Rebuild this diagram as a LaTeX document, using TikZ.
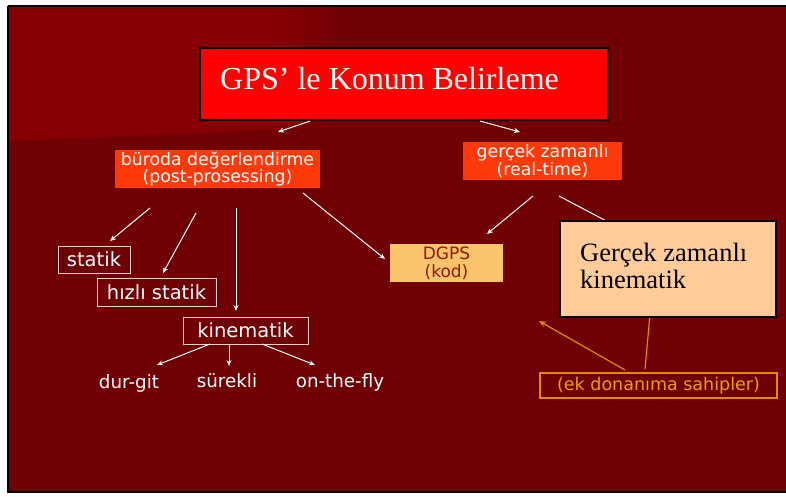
\documentclass[tikz,border=0pt]{standalone}
\usepackage{fontspec}
\setmainfont{Liberation Serif}
\newfontfamily\vsans{DejaVu Sans}
\usetikzlibrary{arrows.meta}

\definecolor{slidebg}{HTML}{6F0004}
\definecolor{slidelight}{HTML}{860003}
\definecolor{titlered}{HTML}{FF0000}
\definecolor{orangered}{HTML}{FF3A0A}
\definecolor{dgpsfill}{HTML}{F9C46A}
\definecolor{dgpstext}{HTML}{8E1B0E}
\definecolor{peach}{HTML}{FFCC99}
\definecolor{amber}{HTML}{E88A00}
\definecolor{ambertext}{HTML}{F09A10}
\definecolor{paleline}{HTML}{E8D0D0}

\tikzset{
  orangebox/.style={fill=orangered, text=white, align=center, inner sep=0pt,
    font=\vsans\fontsize{17.3}{17.5}\selectfont},
  framebox/.style={draw=paleline, line width=1pt, text=white, inner sep=0pt,
    font=\vsans\fontsize{19.5}{20}\selectfont},
  leaf/.style={text=white, inner sep=0pt, font=\vsans\fontsize{18.3}{19}\selectfont},
  wire/.style={draw=white, line width=1pt, -{Stealth[length=6pt,width=5pt]}},
  amberwire/.style={draw=amber, line width=1.2pt},
}

\begin{document}
\begin{tikzpicture}[x=1pt,y=-1pt]
  \useasboundingbox (0,0) rectangle (786,496);
  \fill[white] (0,0) rectangle (786,496);

  % slide background with the lighter band in the upper left
  \fill[slidebg] (8,6) rectangle (786,492);
  \fill[slidelight] (8,6) -- (270,6) -- (270,130) -- (8,141) -- cycle;
  \shade[left color=slidelight, right color=slidebg]
    (269,6) -- (350,6) -- (350,127) -- (269,130) -- cycle;
  \draw[black, line width=2pt] (8,6) -- (786,6);
  \draw[black, line width=2pt] (8,6) -- (8,492) -- (786,492);

  % title
  \node[draw=black, line width=1.6pt, fill=titlered, minimum width=408, minimum height=72,
        inner sep=0pt] (title) at (404,84) {};
  \node[anchor=base west, inner sep=0pt, text=white,
        font=\fontsize{32}{36}\selectfont] (titletext) at (220,89) {GPS’ le Konum Belirleme};

  % second level
  \node[orangebox, minimum width=205, minimum height=38] (buro) at (217.5,169)
    {büroda değerlendirme\\(post-prosessing)};
  \node[orangebox, minimum width=159, minimum height=38] (real) at (542.5,161)
    {gerçek zamanlı\\(real-time)};

  % post-processing methods
  \node[framebox, minimum width=72, minimum height=27] (statik) at (94,259.5) {statik};
  \node[framebox, minimum width=119, minimum height=28] (hizli) at (156.5,292) {hızlı statik};
  \node[framebox, minimum width=125, minimum height=27] (kin) at (245.5,330.5) {kinematik};

  \node[leaf, anchor=base] (durgit) at (129,388) {dur-git};
  \node[leaf, anchor=base] (surekli) at (227,387) {sürekli};
  \node[leaf, anchor=base] (otf) at (340,387) {on-the-fly};

  % DGPS
  \node[fill=dgpsfill, text=dgpstext, align=center, inner sep=0pt,
        minimum width=113, minimum height=38,
        font=\vsans\fontsize{17}{18}\selectfont] (dgps) at (446.5,263) {DGPS\\(kod)};

  % connector ends
  \coordinate (t1) at (310,121);  \coordinate (t1e) at (278,132);
  \coordinate (t2) at (480,121);  \coordinate (t2e) at (520,132);
  \coordinate (b1) at (150,208);  \coordinate (b1e) at (110,241);
  \coordinate (b2) at (196,213);  \coordinate (b2e) at (163,273);
  \coordinate (b3) at (236,208);  \coordinate (b3e) at (236,311);
  \coordinate (b4) at (303,193);  \coordinate (b4e) at (385,259);
  \coordinate (r1) at (533,196);  \coordinate (r1e) at (487,234);
  \coordinate (r2) at (559,196);  \coordinate (r2e) at (612,224);
  \coordinate (k1) at (210,344);  \coordinate (k1e) at (157,365);
  \coordinate (k2) at (229,344);  \coordinate (k2e) at (229,366);
  \coordinate (k3) at (262,344);  \coordinate (k3e) at (315,365);
  \coordinate (e1) at (625,370);  \coordinate (e1e) at (539,321);
  \coordinate (e2) at (645,369);  \coordinate (e2e) at (650,314);

  % connectors
  \draw[wire] (t1) -- (t1e);
  \draw[wire] (t2) -- (t2e);
  \draw[wire] (b1) -- (b1e);
  \draw[wire] (b2) -- (b2e);
  \draw[wire] (b3) -- (b3e);
  \draw[wire] (b4) -- (b4e);
  \draw[wire] (r1) -- (r1e);
  \draw[wire] (k1) -- (k1e);
  \draw[wire] (k2) -- (k2e);
  \draw[wire] (k3) -- (k3e);
  \draw[draw=white, line width=1pt] (r2) -- (r2e);
  \draw[amberwire, -{Stealth[length=7pt,width=6pt]}] (e1) -- (e1e);
  \draw[amberwire] (e2) -- (e2e);

  % real-time kinematic, drawn over the lines that run behind it
  \node[draw=black, line width=1.8pt, fill=peach, minimum width=216, minimum height=96,
        inner sep=0pt] (rtk) at (668,269) {};
  \node[anchor=base west, inner sep=0pt, align=left, text=black,
        font=\fontsize{26.5}{27}\selectfont] (rtktext) at (580,288)
    {Gerçek zamanlı\\kinematik};

  \node[draw=amber, line width=1.3pt, text=ambertext, inner sep=0pt,
        minimum width=237, minimum height=25,
        font=\vsans\fontsize{17.5}{19}\selectfont] (ek) at (658.5,385.5)
    {(ek donanıma sahipler)};
\end{tikzpicture}
\end{document}
